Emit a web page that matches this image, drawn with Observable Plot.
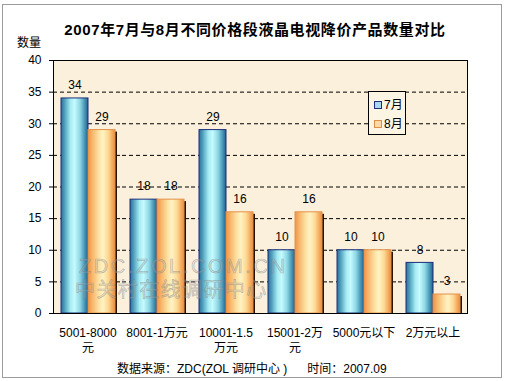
<!DOCTYPE html>
<html>
<head>
<meta charset="utf-8">
<script src="https://cdn.jsdelivr.net/npm/d3@7"></script>
<script src="https://cdn.jsdelivr.net/npm/@observablehq/plot@0.6"></script>
<style>
  html, body { margin: 0; padding: 0; background: #ffffff; }
  #page { position: relative; width: 505px; height: 381px; overflow: hidden; background: #fff;
    font-family: "Liberation Sans", "Noto Sans CJK SC", sans-serif; }
  #border { position: absolute; left: 2px; top: 4px; width: 498px; height: 372px; border: 1px solid #9c9c9c; }
  #title { position: absolute; left: 0; top: 18px; width: 510px; text-align: center; font-weight: bold; font-size: 15px; letter-spacing: 0.6px; color: #000; }
  #ylab { position: absolute; left: 17px; top: 33px; font-size: 12px; color: #000; }
  #chart { position: absolute; left: 0; top: 0; }
  #foot { position: absolute; left: 117px; top: 359px; font-size: 12px; color: #000; white-space: pre; }
  #legend { position: absolute; left: 368px; top: 91px; width: 36px; height: 42px; background: #fdf5e4; border: 1px solid #000; font-size: 12px; }
  .li { position: absolute; left: 5px; height: 14px; line-height: 14px; }
  .sw { display: inline-block; width: 6px; height: 6px; margin-right: 2px; vertical-align: 0px; }
  .wm { position: absolute; color: rgba(190,190,190,0.25); -webkit-text-stroke: 0.7px rgba(120,120,120,0.45); white-space: nowrap; pointer-events: none; line-height: 1;
    font-family: "Liberation Sans", "Noto Sans CJK SC", sans-serif; }
</style>
</head>
<body>
<div id="page">
  <div id="border"></div>
  <div id="chart"></div>
  <div id="title">2007年7月与8月不同价格段液晶电视降价产品数量对比</div>
  <div id="ylab">数量</div>
  <div id="legend">
    <div class="li" style="top:6px"><span class="sw" style="background:#a9d8f0;border:1px solid #1b2f7a"></span>7月</div>
    <div class="li" style="top:25px"><span class="sw" style="background:#fbd9a6;border:1px solid #d9914a"></span>8月</div>
  </div>
  <div class="wm" style="left:79px;top:256px;font-size:20px;letter-spacing:2.6px;">ZDC.ZOL.COM.CN</div>
  <div class="wm" style="left:75px;top:280px;font-size:20px;letter-spacing:1.4px;">中关村在线调研中心</div>
  <div id="foot">数据来源：ZDC(ZOL 调研中心 )      时间：2007.09</div>
</div>
<script>
const categories = ["5001-8000元", "8001-1万元", "10001-1.5万元", "15001-2万元", "5000元以下", "2万元以上"];
const tickLabels = ["5001-8000\n元", "8001-1万元", "10001-1.5\n万元", "15001-2万\n元", "5000元以下", "2万元以上"];
const months = ["7月", "8月"];
const july = [34, 18, 29, 10, 10, 8];
const august = [29, 18, 16, 16, 10, 3];
const yTicks = [0, 5, 10, 15, 20, 25, 30, 35, 40];

const julyData = categories.map((c, i) => ({cat: c, month: months[0], value: july[i]}));
const augData = categories.map((c, i) => ({cat: c, month: months[1], value: august[i]}));
const allData = julyData.concat(augData);

const font = "'Liberation Sans', 'Noto Sans CJK SC', sans-serif";

const chart = Plot.plot({
  width: 505,
  height: 381,
  marginTop: 60,
  marginBottom: 68,
  marginLeft: 52,
  marginRight: 37,
  style: {fontFamily: font, fontSize: "12px", background: "transparent", color: "#000"},
  fx: {domain: categories, padding: 0, label: null},
  x: {domain: months, paddingInner: 0, paddingOuter: 0.27, axis: null},
  y: {domain: [0, 40], label: null},
  marks: [
    Plot.frame({facet: "super", fill: "#fbf0dc", stroke: null}),
    Plot.gridY(yTicks.slice(1, -1), {stroke: "#000", strokeOpacity: 1, strokeDasharray: "4,3"}),
    Plot.axisY({ticks: yTicks, tickSize: 4, tickPadding: 8, fontSize: 12, label: null}),
    Plot.axisFx({anchor: "bottom", tickSize: 0, tickPadding: 12, fontSize: 12, lineHeight: 1.3, label: null,
      tickFormat: d => tickLabels[categories.indexOf(d)]}),
    Plot.barY(augData, {fx: "cat", x: "month", y: "value", fill: "#2a1200", dx: 2, insetTop: 2}),
    Plot.barY(julyData, {fx: "cat", x: "month", y: "value", fill: "url(#g7)", stroke: "#1b2f7a", strokeWidth: 1}),
    Plot.barY(augData, {fx: "cat", x: "month", y: "value", fill: "url(#g8)", stroke: "#e4924a", strokeWidth: 1}),
    Plot.text(allData, {fx: "cat", x: "month", y: "value", text: d => String(d.value), dy: -13, fontSize: 12, fill: "#000"}),
    Plot.frame({facet: "super", stroke: "#000", fill: null})
  ]
});

const svg = d3.select(chart);
const defs = svg.insert("defs", ":first-child");
const g7 = defs.append("linearGradient").attr("id", "g7").attr("x1", "0").attr("x2", "1").attr("y1", "0").attr("y2", "0");
[[0, "#2f6f9a"], [0.12, "#4a9ab8"], [0.35, "#a6ecf4"], [0.5, "#c6fafd"], [0.7, "#8fd8e6"], [0.9, "#3e8cae"], [1, "#2a5f8c"]]
  .forEach(([o, c]) => g7.append("stop").attr("offset", o).attr("stop-color", c));
const g8 = defs.append("linearGradient").attr("id", "g8").attr("x1", "0").attr("x2", "1").attr("y1", "0").attr("y2", "0");
[[0, "#ef9444"], [0.15, "#f7b468"], [0.4, "#fde2a4"], [0.55, "#fff3c4"], [0.75, "#fdd892"], [0.92, "#f3a457"], [1, "#ec9040"]]
  .forEach(([o, c]) => g8.append("stop").attr("offset", o).attr("stop-color", c));

document.getElementById("chart").appendChild(chart);
</script>
</body>
</html>
